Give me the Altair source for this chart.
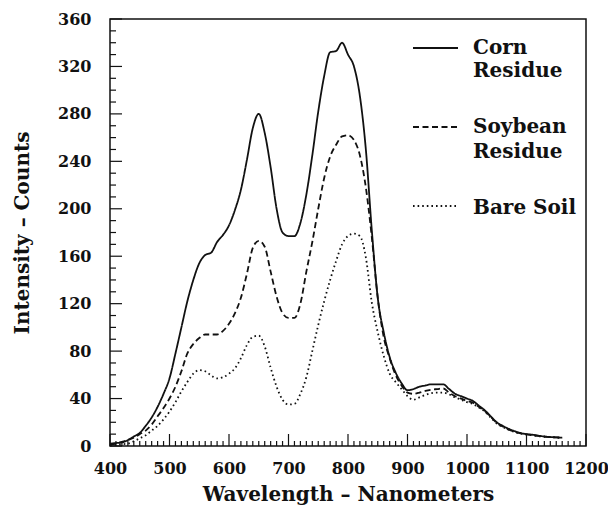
import altair as alt
import pandas as pd

# ---- data ----
wavelength = [400, 410, 420, 430, 440, 450, 460, 470, 480, 490, 500, 510, 520, 530, 540,
              550, 560, 570, 580, 590, 600, 610, 620, 630, 640, 650, 660, 670, 680, 690,
              700, 710, 720, 730, 740, 750, 760, 770, 780, 790, 800, 810, 820, 830, 840,
              850, 860, 870, 880, 890, 900, 910, 920, 930, 940, 950, 960, 970, 980, 990,
              1000, 1010, 1020, 1030, 1040, 1050, 1060, 1070, 1080, 1090, 1100, 1110,
              1120, 1130, 1140, 1150, 1160]

corn = [2, 2.5, 3, 5, 8, 11, 17, 24, 33, 44, 57, 78, 100, 122, 140,
        154, 161, 163, 172, 178, 186, 199, 216, 241, 268, 280, 264, 235, 200, 180,
        177, 177, 188, 212, 245, 282, 312, 332, 333, 340, 330, 320, 295, 250, 182,
        125, 96, 75, 62, 53, 47, 48, 50, 51, 52, 52, 52, 48, 44, 42,
        40, 38, 34, 30, 25, 20, 17, 14.5, 12.5, 11, 10, 9.5,
        8.7, 8, 7.6, 7.3, 7]

soybean = [1, 2, 3.5, 5, 7, 10, 13, 18, 25, 32, 40, 50, 63, 78, 86,
           91, 94, 94, 94, 97, 103, 112, 125, 145, 167, 173, 168, 147, 126, 112,
           108, 108, 120, 147, 172, 200, 226, 244, 254, 261, 262, 258, 245, 218, 176,
           125, 92, 74, 60, 51, 45, 44, 45, 46.5, 47.5, 48, 48.5, 45, 42, 40,
           38, 36.5, 33, 29.5, 24.5, 19.5, 16.5, 14, 12, 10.7, 9.8, 9.2,
           8.5, 7.9, 7.5, 7.2, 6.9]

bare_soil = [0.5, 1, 1.5, 2, 4, 6.5, 9, 13, 17, 22.5, 29, 37, 46, 54, 61,
             64, 63, 59.5, 57, 58, 61, 65.5, 74, 85, 92, 93, 84, 66, 50, 39,
             35, 35.5, 44, 58, 80, 102, 122, 140, 156, 170, 177, 179, 177, 159, 121,
             96, 76, 61, 54, 48, 42, 39, 41, 43, 44.5, 45, 45, 43.5, 41, 39,
             37, 35.5, 32.5, 29, 24, 19, 16, 13.7, 11.8, 10.5, 9.6, 9,
             8.3, 7.8, 7.4, 7.1, 6.8]

series_names = ["Corn Residue", "Soybean Residue", "Bare Soil"]
x_major_ticks = list(range(400, 1201, 100))
x_minor_ticks = [v for v in range(400, 1201, 10) if v % 100 != 0]
y_major_ticks = list(range(0, 361, 40))
y_minor_ticks = [v for v in range(0, 361, 10) if v % 40 != 0]

# ---- layout ----
W, H = 476, 427
FONT = "DejaVu Serif"
INK = "#111111"

rows = []
for name, vals in zip(series_names, [corn, soybean, bare_soil]):
    for w, v in zip(wavelength, vals):
        rows.append({"wavelength": w, "intensity": v, "series": name})
df = pd.DataFrame(rows)

xscale = alt.Scale(domain=[400, 1200], nice=False, zero=False)
yscale = alt.Scale(domain=[0, 360], nice=False, zero=True)
dash_scale = alt.Scale(domain=series_names, range=[[1, 0], [6, 3.5], [1.6, 3]])

XT = "Wavelength \u2013 Nanometers"
YT = "Intensity \u2013 Counts"
x_axis = alt.Axis(values=x_major_ticks, title=XT, ticks=False, domain=False, grid=False,
                  labelPadding=14, labelFlush=False, titlePadding=8, format="d")
y_axis = alt.Axis(values=y_major_ticks, title=YT, ticks=False, domain=False, grid=False,
                  labelPadding=19, titlePadding=25, format="d")

lines = alt.Chart(df).mark_line(color=INK, interpolate="monotone", strokeWidth=1.8).encode(
    x=alt.X("wavelength:Q", scale=xscale, axis=x_axis, title=XT),
    y=alt.Y("intensity:Q", scale=yscale, axis=y_axis, title=YT),
    strokeDash=alt.StrokeDash("series:N", scale=dash_scale, legend=None),
    detail="series:N",
)

# inward tick marks
xmin = alt.Chart(pd.DataFrame({"wavelength": x_minor_ticks})).mark_rule(color=INK, strokeWidth=1.2).encode(
    x=alt.X("wavelength:Q", scale=xscale, axis=x_axis, title=XT), y=alt.value(H), y2=alt.value(H - 5))
xmaj = alt.Chart(pd.DataFrame({"wavelength": x_major_ticks})).mark_rule(color=INK, strokeWidth=1.2).encode(
    x=alt.X("wavelength:Q", scale=xscale, axis=x_axis, title=XT), y=alt.value(H), y2=alt.value(H - 12))
ymin = alt.Chart(pd.DataFrame({"intensity": y_minor_ticks})).mark_rule(color=INK, strokeWidth=1.2).encode(
    y=alt.Y("intensity:Q", scale=yscale, axis=y_axis, title=YT), x=alt.value(0), x2=alt.value(6))
ymaj = alt.Chart(pd.DataFrame({"intensity": y_major_ticks})).mark_rule(color=INK, strokeWidth=1.2).encode(
    y=alt.Y("intensity:Q", scale=yscale, axis=y_axis, title=YT), x=alt.value(0), x2=alt.value(12))

# legend
legend_lines = [("Corn Residue", 29), ("Soybean Residue", 108), ("Bare Soil", 187)]
legend_texts = [("Corn", 29), ("Residue", 52), ("Soybean", 108), ("Residue", 133), ("Bare Soil", 189)]

leg = []
for name, yy in legend_lines:
    leg.append(
        alt.Chart(pd.DataFrame({"series": [name]})).mark_rule(color=INK, strokeWidth=1.8).encode(
            x=alt.value(303), x2=alt.value(348), y=alt.value(yy),
            strokeDash=alt.StrokeDash("series:N", scale=dash_scale, legend=None)))
for txt, yy in legend_texts:
    leg.append(
        alt.Chart(pd.DataFrame({"t": [txt]})).mark_text(
            align="left", baseline="middle", font=FONT, fontWeight="bold", fontSize=20,
            color=INK).encode(x=alt.value(363), y=alt.value(yy), text="t:N"))

chart = alt.layer(lines, xmin, xmaj, ymin, ymaj, *leg).properties(
    width=W, height=H,
    background="white",
    autosize=alt.AutoSizeParams(type="none"),
    padding={"left": 102, "top": 11, "right": 22, "bottom": 60},
).configure_view(
    stroke=INK, strokeWidth=1.5
).configure_axis(
    labelFont=FONT, labelFontWeight="bold", labelFontSize=16, labelColor=INK,
    titleFont=FONT, titleFontWeight="bold", titleFontSize=20, titleColor=INK,
)

chart.save("out.html", embed_options={"renderer": "svg", "actions": False})
